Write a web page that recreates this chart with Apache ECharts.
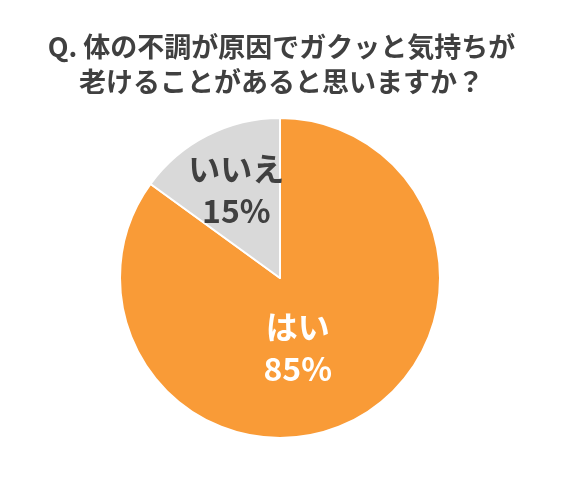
<!DOCTYPE html>
<html><head><meta charset="utf-8">
<script src="https://cdn.jsdelivr.net/npm/echarts@6/dist/echarts.min.js"></script>
<style>html,body{margin:0;padding:0;background:#fff}#c{width:563px;height:482px}</style>
</head><body><div id="c"></div>
<script>
const titleLines = ['Q. 体の不調が原因でガクッと気持ちが', '老けることがあると思いますか？'];
const categories = ['はい', 'いいえ'];
const values = [85, 15];
const colors = ['#F99B37', '#D9D9D9'];
const labelColors = ['#ffffff', '#404040'];

const chart = echarts.init(document.getElementById('c'));
chart.setOption({
  animation: false,
  title: {
    text: titleLines.join('\n'), left: 'center', top: 24,
    textStyle: { fontFamily: 'Noto Sans CJK JP', fontSize: 27, fontWeight: 'bold', color: '#404040', lineHeight: 35 }
  },
  series: [{
    type: 'pie', center: [280, 278], radius: 160, startAngle: 90, clockwise: true,
    data: categories.map((n, i) => ({
      name: n, value: values[i],
      itemStyle: { color: colors[i] },
      label: { color: labelColors[i], offset: i === 0 ? [-20, -4] : [-6, -14] }
    })),
    itemStyle: { borderColor: '#fff', borderWidth: 2 },
    label: {
      position: 'inside', formatter: '{b}\n{c}%',
      fontFamily: 'Noto Sans CJK JP', fontSize: 32, fontWeight: 'bold', lineHeight: 42
    },
    labelLine: { show: false }
  }]
});
</script></body></html>
